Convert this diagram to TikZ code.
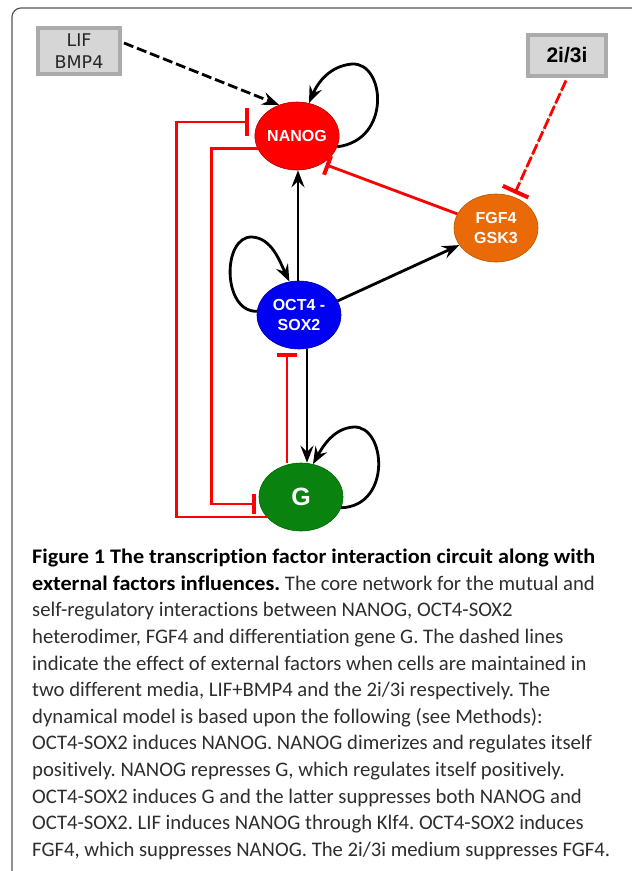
\documentclass[tikz,border=0pt]{standalone}
\usepackage{fontspec}
\setmainfont{Liberation Sans}
\newfontfamily\capfont{Carlito}[Ligatures=NoCommon, BoldFeatures={FakeStretch=1.07}]
\newfontfamily\boxfont{DejaVu Sans}
\usetikzlibrary{arrows.meta,shapes.geometric,calc}
\frenchspacing
\definecolor{nanogred}{HTML}{FF0000}
\definecolor{octblue}{HTML}{0000F2}
\definecolor{fgforange}{HTML}{E96A06}
\definecolor{ggreen}{HTML}{0A820F}
\definecolor{boxfill}{HTML}{D6D6D6}
\definecolor{boxedge}{HTML}{ABABAB}
\definecolor{frame}{HTML}{555555}
\definecolor{captext}{HTML}{2E2E2E}
\definecolor{dashgreen}{HTML}{7FC07F}
\tikzset{
  gene/.style={ellipse, minimum width=84pt, minimum height=68pt, inner sep=0pt,
    text=white, font=\fontsize{16}{20}\selectfont\bfseries, align=center},
  medium/.style={rectangle, fill=boxfill, draw=boxedge, line width=4pt, inner sep=0pt},
  act/.style={line width=2.8pt, -{Stealth[length=17pt,width=13pt,inset=6pt]}},
  inh/.style={line width=2.8pt, nanogred, -{Bar[width=20pt,line width=4pt]}},
  inhbig/.style={line width=2.8pt, nanogred, -{Bar[width=28pt,line width=4pt]}},
}
\begin{document}
\begin{tikzpicture}[x=1pt,y=-1pt]
\useasboundingbox (0,0) rectangle (632,871);
\fill[white] (0,0) rectangle (632,871);
\begin{scope}
\clip (0,0) rectangle (632,871);
\draw[frame, line width=1.2pt, rounded corners=9pt] (12,8) rectangle (660,900);
\end{scope}

% nodes
\node[gene, fill=nanogred, draw=red!70!black, line width=0.6pt] (nanog) at (297,136) {NANOG};
\node[gene, fill=octblue, draw=blue!60!black, line width=0.6pt] (oct) at (299,315) {OCT4 -\\SOX2};
\node[gene, fill=fgforange, draw=orange!70!black, line width=0.6pt] (fgf) at (496,228) {FGF4\\GSK3};
\node[gene, fill=ggreen, draw=green!40!black, line width=0.6pt, font=\fontsize{25}{30}\selectfont\bfseries] (g) at (301,497) {G};
\node[medium, minimum width=82pt, minimum height=46pt, font=\boxfont\fontsize{17.5}{22}\selectfont, text=black!85, align=center] (lif) at (79,51) {LIF\\BMP4};
\node[medium, minimum width=78pt, minimum height=41pt, font=\fontsize{21}{24}\selectfont\bfseries] (twoi) at (567,55) {2i/3i};

% LIF -> NANOG
\draw[act, dash pattern=on 10pt off 4pt] (lif.east) ++(2,-8) coordinate (lifout) (lifout) -- (nanog.120);
% NANOG self loop
\draw[act] (nanog.-15) .. controls (392,140) and (385,62) .. (352,64)
  .. controls (330,66) and (318,82) .. (nanog.70);
% OCT4 -> NANOG
\draw[act] (oct.north -| 298,0) -- (nanog.south -| 298,0);
% OCT4 self loop
\draw[act] (oct.175) .. controls (222,312) and (222,236) .. (252,237)
  .. controls (272,238) and (280,262) .. (oct.106);
% OCT4 -> FGF4
\draw[act] (oct.20) -- (fgf.205);
% FGF4 -| NANOG
\draw[inh] (fgf.160) -- ($(nanog.-45)+(2,2)$);
% 2i/3i -| FGF4
\draw[dashgreen, line width=0.6pt, shorten >=4pt] (twoi.south) ++(-1,3) coordinate (tw) (tw) -- ($(fgf.62)+(2,-3)$);
\draw[inhbig, dash pattern=on 11pt off 3pt] (tw) -- ($(fgf.62)+(2,-3)$);
% OCT4 -> G
\draw[act] (oct.south -| 307,0) -- (g.north -| 307,0);
% G -| OCT4
\draw[inh] (g.north -| 287,0) -- ($(oct.south -| 287,0)+(0,4)$);
% G self loop
\draw[act] (g.-15) .. controls (392,506) and (386,426) .. (354,427)
  .. controls (334,428) and (323,446) .. (g.70);
% NANOG -| G
\draw[inh] (nanog.198) -- ++(-46,0) |- ($(g.west)+(-3,7)$);
% G -| NANOG
\draw[inhbig] (g.210) -- ++(-90,0) |- ($(nanog.west)+(-6,-14)$);

% caption
\node[anchor=north west, inner sep=0pt, align=left, text=captext,
  font=\capfont\fontsize{20.7}{26.6}\selectfont] (cap) at (32,549) {%
\textcolor{black}{\bfseries Figure 1 The transcription factor interaction circuit along with}\\
\textcolor{black}{\bfseries external factors influences.} The core network for the mutual and\\
self-regulatory interactions between NANOG, OCT4-SOX2\\
heterodimer, FGF4 and differentiation gene G. The dashed lines\\
indicate the effect of external factors when cells are maintained in\\
two different media, LIF+BMP4 and the 2i/3i respectively. The\\
dynamical model is based upon the following (see Methods):\\
OCT4-SOX2 induces NANOG. NANOG dimerizes and regulates itself\\
positively. NANOG represses G, which regulates itself positively.\\
OCT4-SOX2 induces G and the latter suppresses both NANOG and\\
OCT4-SOX2. LIF induces NANOG through Klf4. OCT4-SOX2 induces\\
FGF4, which suppresses NANOG. The 2i/3i medium suppresses FGF4.};
\end{tikzpicture}
\end{document}
